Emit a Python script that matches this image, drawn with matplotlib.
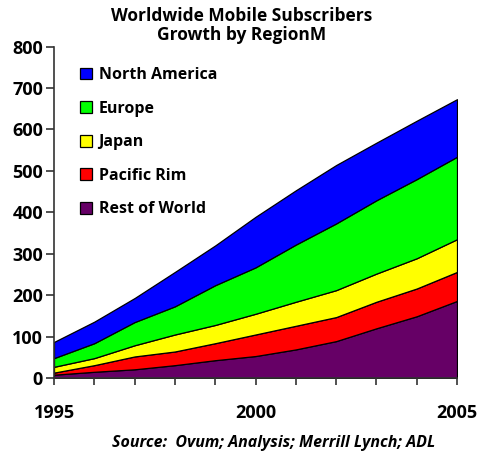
import matplotlib
matplotlib.use("Agg")
import matplotlib.pyplot as plt

# --- data (millions of subscribers per region) ---
years = [1995, 1996, 1997, 1998, 1999, 2000, 2001, 2002, 2003, 2004, 2005]
rest_of_world = [8, 15, 21, 31, 43, 53, 69, 89, 120, 149, 186]
pacific_rim = [5, 16, 31, 33, 41, 52, 57, 58, 64, 67, 70]
japan = [14, 17, 27, 41, 44, 50, 58, 65, 68, 73, 79]
europe = [21, 36, 56, 68, 96, 112, 138, 161, 177, 191, 199]
north_america = [39, 52, 58, 83, 96, 122, 131, 141, 139, 141, 139]

labels = ["Rest of World", "Pacific Rim", "Japan", "Europe", "North America"]
colors = ["#660066", "#ff0000", "#ffff00", "#00ff00", "#0000ff"]
y_ticks = [0, 100, 200, 300, 400, 500, 600, 700, 800]
x_labels = [1995, 2000, 2005]

plt.rcParams["font.family"] = ["Open Sans", "DejaVu Sans"]

fig = plt.figure(figsize=(4.8, 4.54), dpi=100)
ax = fig.add_axes([0.1125, 0.1674, 0.8396, 0.7300])

polys = ax.stackplot(years, rest_of_world, pacific_rim, japan, europe, north_america,
                     labels=labels, colors=colors, edgecolor="black", linewidth=0.9)

ax.set_xlim(1995, 2005)
ax.set_ylim(0, 800)
ax.set_yticks(y_ticks)
ax.set_xticks(years)
ax.set_xticklabels([str(y) if y in x_labels else "" for y in years])

for s in ["top", "right"]:
    ax.spines[s].set_visible(False)
for s in ["left", "bottom"]:
    ax.spines[s].set_color("#333333")
    ax.spines[s].set_linewidth(1.2)

ax.tick_params(axis="y", direction="out", length=6, width=1.2, color="#333333",
               pad=2, labelsize=13)
ax.tick_params(axis="x", direction="out", length=5, width=1.2, color="#333333",
               pad=14, labelsize=13)
for t in ax.get_xticklabels() + ax.get_yticklabels():
    t.set_fontweight("bold")

fig.text(0.503, 0.985, "Worldwide Mobile Subscribers\nGrowth by RegionM",
         ha="center", va="top", fontsize=12.5, fontweight="bold", linespacing=1.1)

fig.text(0.57, 0.025, "Source:  Ovum; Analysis; Merrill Lynch; ADL",
         ha="center", va="center", fontsize=11.5, fontstyle="italic",
         fontweight="bold")

handles = polys[::-1]
leg = fig.legend(handles, labels[::-1], loc="upper left",
                 bbox_to_anchor=(0.167, 0.852), frameon=False,
                 handlelength=0.75, handleheight=0.75, handletextpad=0.4,
                 labelspacing=1.1, borderaxespad=0, borderpad=0,
                 prop={"size": 11.5, "weight": "bold"})
for h in leg.legend_handles:
    h.set_edgecolor("black")
    h.set_linewidth(0.9)

fig.savefig("out.png", dpi=100)
